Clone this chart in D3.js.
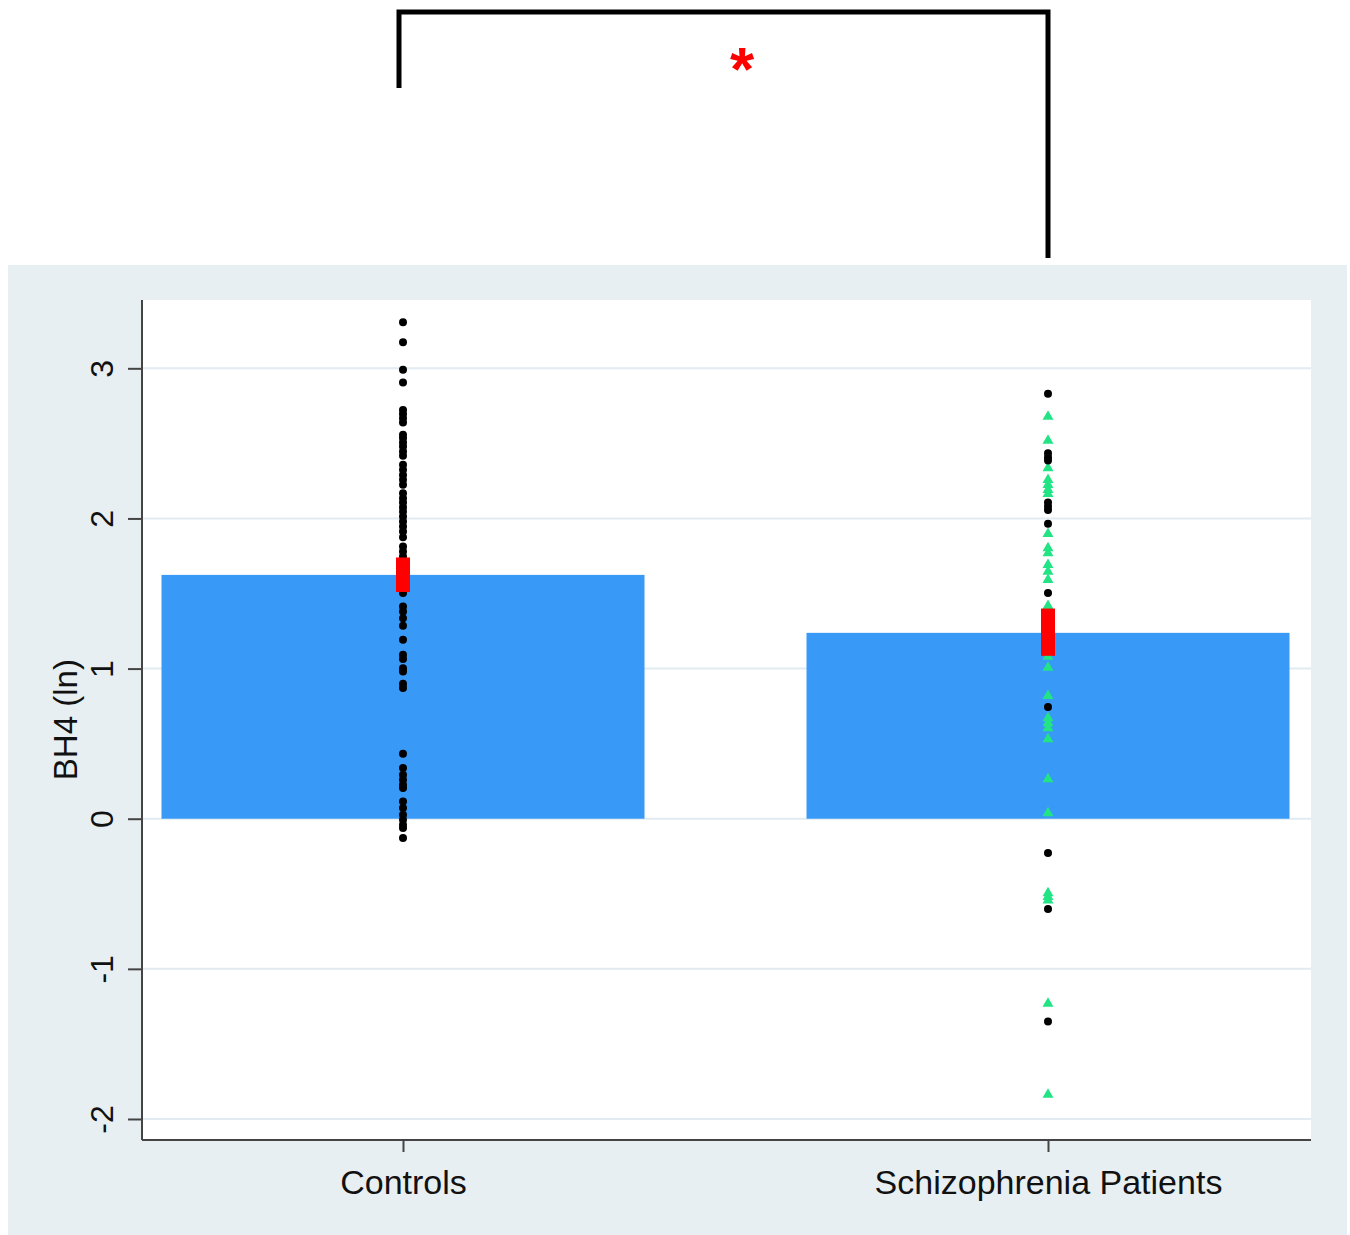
<!DOCTYPE html>
<html>
<head>
<meta charset="utf-8">
<script src="https://cdn.jsdelivr.net/npm/d3@7"></script>
<style>
  body { margin: 0; background: #fff; }
  text { font-family: "Liberation Sans", Arial, sans-serif; }
</style>
</head>
<body>
<div id="chart"></div>
<script>
// data
var groups = ["Controls", "Schizophrenia Patients"];
var means = [1.624, 1.238];
var ciLow = [1.51, 1.085];
var ciHigh = [1.74, 1.40];
var yTicks = [-2, -1, 0, 1, 2, 3];

var controlDots = [3.307, 3.174, 2.99, 2.905, 2.723, 2.696, 2.668, 2.639, 2.557, 2.535,
  2.506, 2.479, 2.446, 2.417, 2.357, 2.324, 2.29, 2.257, 2.224, 2.168, 2.135, 2.106,
  2.075, 2.046, 2.013, 1.979, 1.946, 1.913, 1.875, 1.813, 1.78, 1.746, 1.70, 1.65,
  1.60, 1.55, 1.503, 1.413, 1.38, 1.336, 1.285, 1.192, 1.092, 1.063, 1.003, 0.981,
  0.899, 0.87, 0.433, 0.337, 0.293, 0.26, 0.226, 0.204, 0.115, 0.071, 0.027, -0.007,
  -0.04, -0.062, -0.128];

var patientDots = [2.83, 2.435, 2.408, 2.386, 2.106, 2.08, 2.057, 1.964, 1.503, 1.25,
  0.744, -0.228, -0.601, -1.35];

var patientTriangles = [2.678, 2.519, 2.335, 2.257, 2.224, 2.19, 2.164, 1.897, 1.802,
  1.769, 1.691, 1.646, 1.591, 1.418, 1.35, 1.30, 1.20, 1.15, 1.08, 1.007, 0.819, 0.67,
  0.637, 0.604, 0.531, 0.264, 0.038, -0.495, -0.521, -0.544, -1.232, -1.837];

var W = 1350, H = 1235;
var plot = {left: 142, right: 1311, top: 300, bottom: 1140};
var barWidth = 483;

var svg = d3.select("#chart").append("svg")
    .attr("width", W)
    .attr("height", H);

// outer panel
svg.append("rect")
    .attr("x", 8).attr("y", 265)
    .attr("width", 1339).attr("height", H - 265)
    .attr("fill", "#e8eff2");

svg.append("rect")
    .attr("x", plot.left).attr("y", plot.top)
    .attr("width", plot.right - plot.left).attr("height", plot.bottom - plot.top)
    .attr("fill", "#fff");

var x = d3.scalePoint().domain(groups).range([403, 1048]);
var y = d3.scaleLinear().domain([-2.14, 3.455]).range([plot.bottom, plot.top]);

// grid lines
svg.append("g").selectAll("line")
    .data(yTicks)
    .enter().append("line")
    .attr("x1", plot.left).attr("x2", plot.right)
    .attr("y1", d => y(d)).attr("y2", d => y(d))
    .attr("stroke", "#e1ebf1")
    .attr("stroke-width", 2);

// bars
svg.append("g").selectAll("rect")
    .data(groups)
    .enter().append("rect")
    .attr("x", d => x(d) - barWidth / 2)
    .attr("width", barWidth)
    .attr("y", (d, i) => y(means[i]))
    .attr("height", (d, i) => y(0) - y(means[i]))
    .attr("fill", "#3999f7");

// points
svg.append("g").selectAll("circle")
    .data(controlDots)
    .enter().append("circle")
    .attr("cx", x(groups[0]))
    .attr("cy", d => y(d))
    .attr("r", 4)
    .attr("fill", "#000");

svg.append("g").selectAll("path")
    .data(patientTriangles)
    .enter().append("path")
    .attr("d", d3.symbol().type(d3.symbolTriangle).size(52))
    .attr("transform", d => "translate(" + x(groups[1]) + "," + y(d) + ")")
    .attr("fill", "#22e485");

svg.append("g").selectAll("circle")
    .data(patientDots)
    .enter().append("circle")
    .attr("cx", x(groups[1]))
    .attr("cy", d => y(d))
    .attr("r", 4)
    .attr("fill", "#000");

// confidence intervals
svg.append("g").selectAll("rect")
    .data(groups)
    .enter().append("rect")
    .attr("x", d => x(d) - 7)
    .attr("width", 14)
    .attr("y", (d, i) => y(ciHigh[i]))
    .attr("height", (d, i) => y(ciLow[i]) - y(ciHigh[i]))
    .attr("fill", "#ff0000");

// axes
var yAxis = svg.append("g")
    .attr("transform", "translate(" + plot.left + ",0)")
    .call(d3.axisLeft(y).tickValues(yTicks).tickSize(14).tickPadding(0).tickFormat(d => String(d)));
yAxis.select(".domain").attr("d", "M0," + plot.top + "V" + plot.bottom)
    .attr("stroke", "#444").attr("stroke-width", 2);
yAxis.selectAll(".tick line").attr("stroke", "#444").attr("stroke-width", 2);
yAxis.selectAll(".tick text")
    .attr("transform", "translate(-29,0) rotate(-90)")
    .attr("x", 0).attr("y", 0).attr("dy", 0)
    .attr("text-anchor", "middle")
    .attr("fill", "#111")
    .style("font-size", "32px");

var xAxis = svg.append("g")
    .attr("transform", "translate(0," + plot.bottom + ")")
    .call(d3.axisBottom(x).tickSize(12).tickPadding(18));
xAxis.select(".domain").attr("d", "M" + plot.left + ",0H" + plot.right)
    .attr("stroke", "#444").attr("stroke-width", 2);
xAxis.selectAll(".tick line").attr("stroke", "#444").attr("stroke-width", 2);
xAxis.selectAll(".tick text")
    .attr("fill", "#111")
    .style("font-size", "34px");

// y label
svg.append("text")
    .attr("transform", "translate(77," + y(0.66) + ") rotate(-90)")
    .attr("text-anchor", "middle")
    .attr("fill", "#111")
    .style("font-size", "33px")
    .text("BH4 (ln)");

// significance bracket
svg.append("path")
    .attr("d", "M" + (x(groups[0]) - 4) + ",88V12H" + x(groups[1]) + "V258")
    .attr("fill", "none")
    .attr("stroke", "#000")
    .attr("stroke-width", 5);

svg.append("text")
    .attr("x", 742).attr("y", 90)
    .attr("text-anchor", "middle")
    .attr("fill", "#f00")
    .style("font-size", "62px")
    .style("font-weight", "bold")
    .text("*");
</script>
</body>
</html>
